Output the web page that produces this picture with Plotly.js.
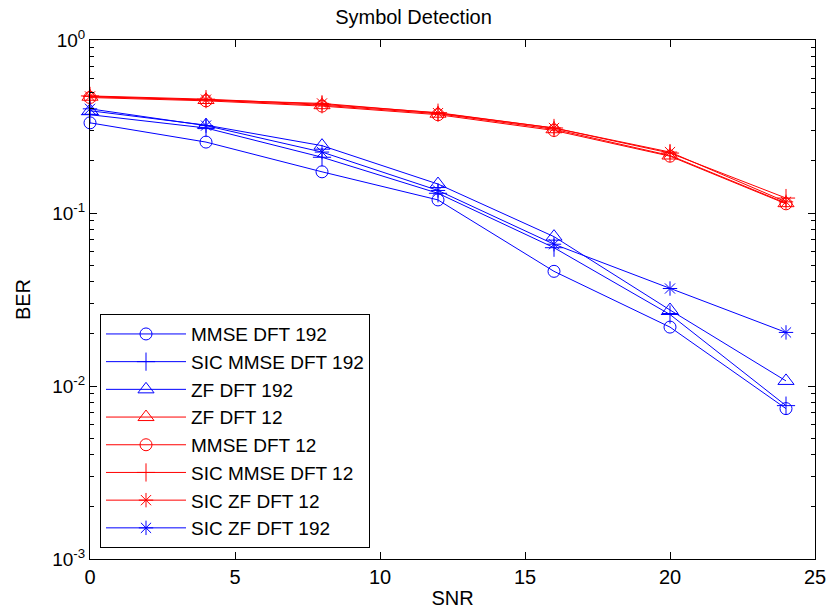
<!DOCTYPE html>
<html><head><meta charset="utf-8">
<script src="https://cdn.plot.ly/plotly-3.0.1.min.js"></script>
<style>body{margin:0;background:#fff}#plot{width:827px;height:614px}</style>
</head><body><div id="plot"></div>
<script>
const snr = [0, 4, 8, 12, 16, 20, 24];
const mmse192 = [0.332, 0.257, 0.173, 0.119, 0.046, 0.0219, 0.0074];
const sicMmse192 = [0.37, 0.31, 0.21, 0.13, 0.063, 0.0259, 0.0077];
const zf192 = [0.39, 0.322, 0.245, 0.147, 0.073, 0.0275, 0.0107];
const zf12 = [0.47, 0.45, 0.42, 0.375, 0.305, 0.215, 0.114];
const mmse12 = [0.465, 0.445, 0.415, 0.37, 0.3, 0.213, 0.113];
const sicMmse12 = [0.475, 0.455, 0.425, 0.38, 0.31, 0.222, 0.122];
const sicZf12 = [0.472, 0.452, 0.43, 0.378, 0.31, 0.225, 0.116];
const sicZf192 = [0.40, 0.32, 0.225, 0.135, 0.066, 0.0366, 0.0204];
const names = ['MMSE DFT 192','SIC MMSE DFT 192','ZF DFT 192','ZF DFT 12','MMSE DFT 12','SIC MMSE DFT 12','SIC ZF DFT 12','SIC ZF DFT 192'];
const series = [mmse192, sicMmse192, zf192, zf12, mmse12, sicMmse12, sicZf12, sicZf192];
const colors = ['#0000ff','#0000ff','#0000ff','#ff0000','#ff0000','#ff0000','#ff0000','#0000ff'];
const symbols = ['circle-open','cross-thin-open','triangle-up-open','triangle-up-open','circle-open','cross-thin-open','asterisk-open','asterisk-open'];
const sizes = [12,13,14,14,12,13,12,12];
const yTickVals = [0.001, 0.01, 0.1, 1];
const yTickText = ['10<sup>-3</sup>','10<sup>-2</sup>','10<sup>-1</sup>','10<sup>0</sup>'];
const yMinorVals = [];
[0.001, 0.01, 0.1].forEach(d => { for (let k = 2; k <= 9; k++) yMinorVals.push(d * k); });
const xTickVals = [0,5,10,15,20,25];

const traces = series.map((s,i)=>({
  x: snr, y: s, name: names[i], type:'scatter', mode:'lines+markers', cliponaxis:false,
  line:{color:colors[i], width:1},
  marker:{symbol:symbols[i], size:sizes[i], color:colors[i], line:{color:colors[i], width:1}}
}));

const layout = {
  width:827, height:614,
  margin:{l:90, r:12, t:40, b:55},
  paper_bgcolor:'#fff', plot_bgcolor:'#fff',
  font:{family:'Liberation Sans, Arial, sans-serif', size:19, color:'#000'},
  title:{text:'Symbol Detection', x:0.5, xanchor:'center', y:0.983, yanchor:'top', font:{size:20}},
  xaxis:{
    range:[0,25], tickvals:xTickVals, ticks:'inside', ticklen:7, tickcolor:'#000',
    showline:true, linecolor:'#000', linewidth:1, mirror:'ticks', showgrid:false, zeroline:false,
    title:{text:'SNR', standoff:3, font:{size:20}}, tickfont:{size:20}
  },
  yaxis:{
    type:'log', range:[-3,0], tickvals:yTickVals, ticktext:yTickText,
    ticks:'inside', ticklen:7, tickcolor:'#000',
    minor:{tickvals:yMinorVals, ticks:'inside', ticklen:4, tickcolor:'#000', showgrid:false},
    showline:true, linecolor:'#000', linewidth:1, mirror:'ticks', showgrid:false, zeroline:false,
    title:{text:'BER', standoff:16, font:{size:20}}, tickfont:{size:19}
  },
  legend:{
    x:0.0138, y:0.021, xanchor:'left', yanchor:'bottom',
    bgcolor:'#fff', bordercolor:'#000', borderwidth:1,
    font:{size:19}, tracegroupgap:0, itemwidth:80
  },
  showlegend:true
};
Plotly.newPlot('plot', traces, layout, {displayModeBar:false, staticPlot:true});
</script></body></html>
